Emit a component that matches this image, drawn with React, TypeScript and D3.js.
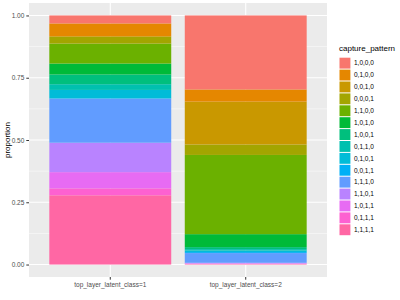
import React, { useEffect, useRef } from "react";
import * as d3 from "d3";

const patterns = [
  "1,0,0,0", "0,1,0,0", "0,0,1,0", "0,0,0,1", "1,1,0,0",
  "1,0,1,0", "1,0,0,1", "0,1,1,0", "0,1,0,1", "0,0,1,1",
  "1,1,1,0", "1,1,0,1", "1,0,1,1", "0,1,1,1", "1,1,1,1",
];
const patternColors = [
  "#F8766D", "#E58700", "#C99800", "#A3A500", "#6BB100",
  "#00BA38", "#00BF7D", "#00C0AF", "#00BCD8", "#00B0F6",
  "#619CFF", "#B983FF", "#E76BF3", "#FD61D1", "#FF67A4",
];
const classes = ["top_layer_latent_class=1", "top_layer_latent_class=2"];
const class1Values = [0.032, 0.051, 0.003, 0.027, 0.080, 0.044, 0.039, 0.023, 0.033, 0.002, 0.177, 0.118, 0.065, 0.028, 0.278];
const class2Values = [0.297, 0.049, 0.172, 0.042, 0.318, 0.052, 0.008, 0.006, 0.006, 0.004, 0.039, 0.002, 0.002, 0.001, 0.002];
const yTicks = [0, 0.25, 0.5, 0.75, 1];
const yMinor = [0.125, 0.375, 0.625, 0.875];

const App = () => {
  const svgRef = useRef<SVGSVGElement>(null);

  useEffect(() => {
    const W = 400, H = 300;
    const panel = { left: 29, top: 3, right: 327, bottom: 277 };
    const font = "'Liberation Sans', Arial, sans-serif";

    const svg = d3.select(svgRef.current).attr("width", W).attr("height", H);
    svg.selectAll("*").remove();

    svg.append("rect").attr("width", W).attr("height", H).attr("fill", "white");
    svg.append("rect")
      .attr("x", panel.left).attr("y", panel.top)
      .attr("width", panel.right - panel.left).attr("height", panel.bottom - panel.top)
      .attr("fill", "#EBEBEB");

    const x = d3.scaleBand().domain(classes).range([panel.left, panel.right]).paddingOuter(0.15).paddingInner(0.1);
    // ggplot style: bars 0.9 wide, centers at discrete positions with 0.6 expansion
    const unit = (panel.right - panel.left) / 2.2;
    const xc = (c: string) => panel.left + (0.6 + classes.indexOf(c)) * unit;
    const bw = 0.9 * unit;
    const y = d3.scaleLinear().domain([-0.05, 1.05]).range([panel.bottom, panel.top]);

    svg.append("g").selectAll("line").data(yMinor).join("line")
      .attr("x1", panel.left).attr("x2", panel.right)
      .attr("y1", (d) => y(d)).attr("y2", (d) => y(d))
      .attr("stroke", "white").attr("stroke-width", 0.5);
    svg.append("g").selectAll("line").data(yTicks).join("line")
      .attr("x1", panel.left).attr("x2", panel.right)
      .attr("y1", (d) => y(d)).attr("y2", (d) => y(d))
      .attr("stroke", "white").attr("stroke-width", 1.1);
    svg.append("g").selectAll("line").data(classes).join("line")
      .attr("x1", (d) => xc(d)).attr("x2", (d) => xc(d))
      .attr("y1", panel.top).attr("y2", panel.bottom)
      .attr("stroke", "white").attr("stroke-width", 1.1);

    const valuesByClass = [class1Values, class2Values];
    classes.forEach((c, ci) => {
      const vals = valuesByClass[ci];
      let cum = 0;
      // bottom of stack is last pattern
      const segs = patterns.map((p, i) => i).reverse().map((i) => {
        const s = { i, y0: cum, y1: cum + vals[i] };
        cum += vals[i];
        return s;
      });
      svg.append("g").selectAll("rect").data(segs).join("rect")
        .attr("x", xc(c) - bw / 2)
        .attr("width", bw)
        .attr("y", (d) => y(d.y1))
        .attr("height", (d) => Math.max(0, y(d.y0) - y(d.y1)))
        .attr("fill", (d) => patternColors[d.i]);
    });

    // y axis
    const yAxis = svg.append("g").attr("transform", `translate(${panel.left},0)`)
      .call(d3.axisLeft(y).tickValues(yTicks).tickFormat(d3.format(".2f")).tickSize(2.7).tickPadding(2));
    yAxis.select(".domain").remove();
    yAxis.selectAll("line").attr("stroke", "#333333");
    yAxis.selectAll("text").attr("fill", "#4D4D4D").style("font-size", "6.5px").style("font-family", font);

    // x axis
    const xAxis = svg.append("g").attr("transform", `translate(0,${panel.bottom})`);
    classes.forEach((c) => {
      xAxis.append("line").attr("x1", xc(c)).attr("x2", xc(c)).attr("y1", 0).attr("y2", 2.7).attr("stroke", "#333333");
      xAxis.append("text").attr("x", xc(c)).attr("y", 10).attr("text-anchor", "middle")
        .attr("fill", "#4D4D4D").style("font-size", "6.5px").style("font-family", font).text(c);
    });

    svg.append("text")
      .attr("transform", `translate(10,${(panel.top + panel.bottom) / 2}) rotate(-90)`)
      .attr("text-anchor", "middle").style("font-size", "8px").style("font-family", font)
      .attr("fill", "black").text("proportion");

    // legend
    const lg = svg.append("g").attr("transform", "translate(339,0)");
    lg.append("text").attr("x", 0).attr("y", 51).style("font-size", "8px").style("font-family", font)
      .attr("fill", "black").text("capture_pattern");
    const keyH = 11.9;
    const ly = d3.scaleBand().domain(patterns).range([57.2, 57.2 + keyH * patterns.length]);
    const items = lg.selectAll("g.item").data(patterns).join("g").attr("class", "item")
      .attr("transform", (d) => `translate(0,${ly(d)})`);
    items.append("rect").attr("x", 0.5).attr("y", 0.5).attr("width", keyH - 1).attr("height", keyH - 1)
      .attr("fill", (d, i) => patternColors[i]);
    items.append("text").attr("x", 15).attr("y", keyH / 2 + 2.3)
      .style("font-size", "6.5px").style("font-family", font).attr("fill", "black").text((d) => d);
  }, []);

  return <svg ref={svgRef} style={{ position: "fixed", left: 0, top: 0, display: "block" }}></svg>;
};

export default App;
